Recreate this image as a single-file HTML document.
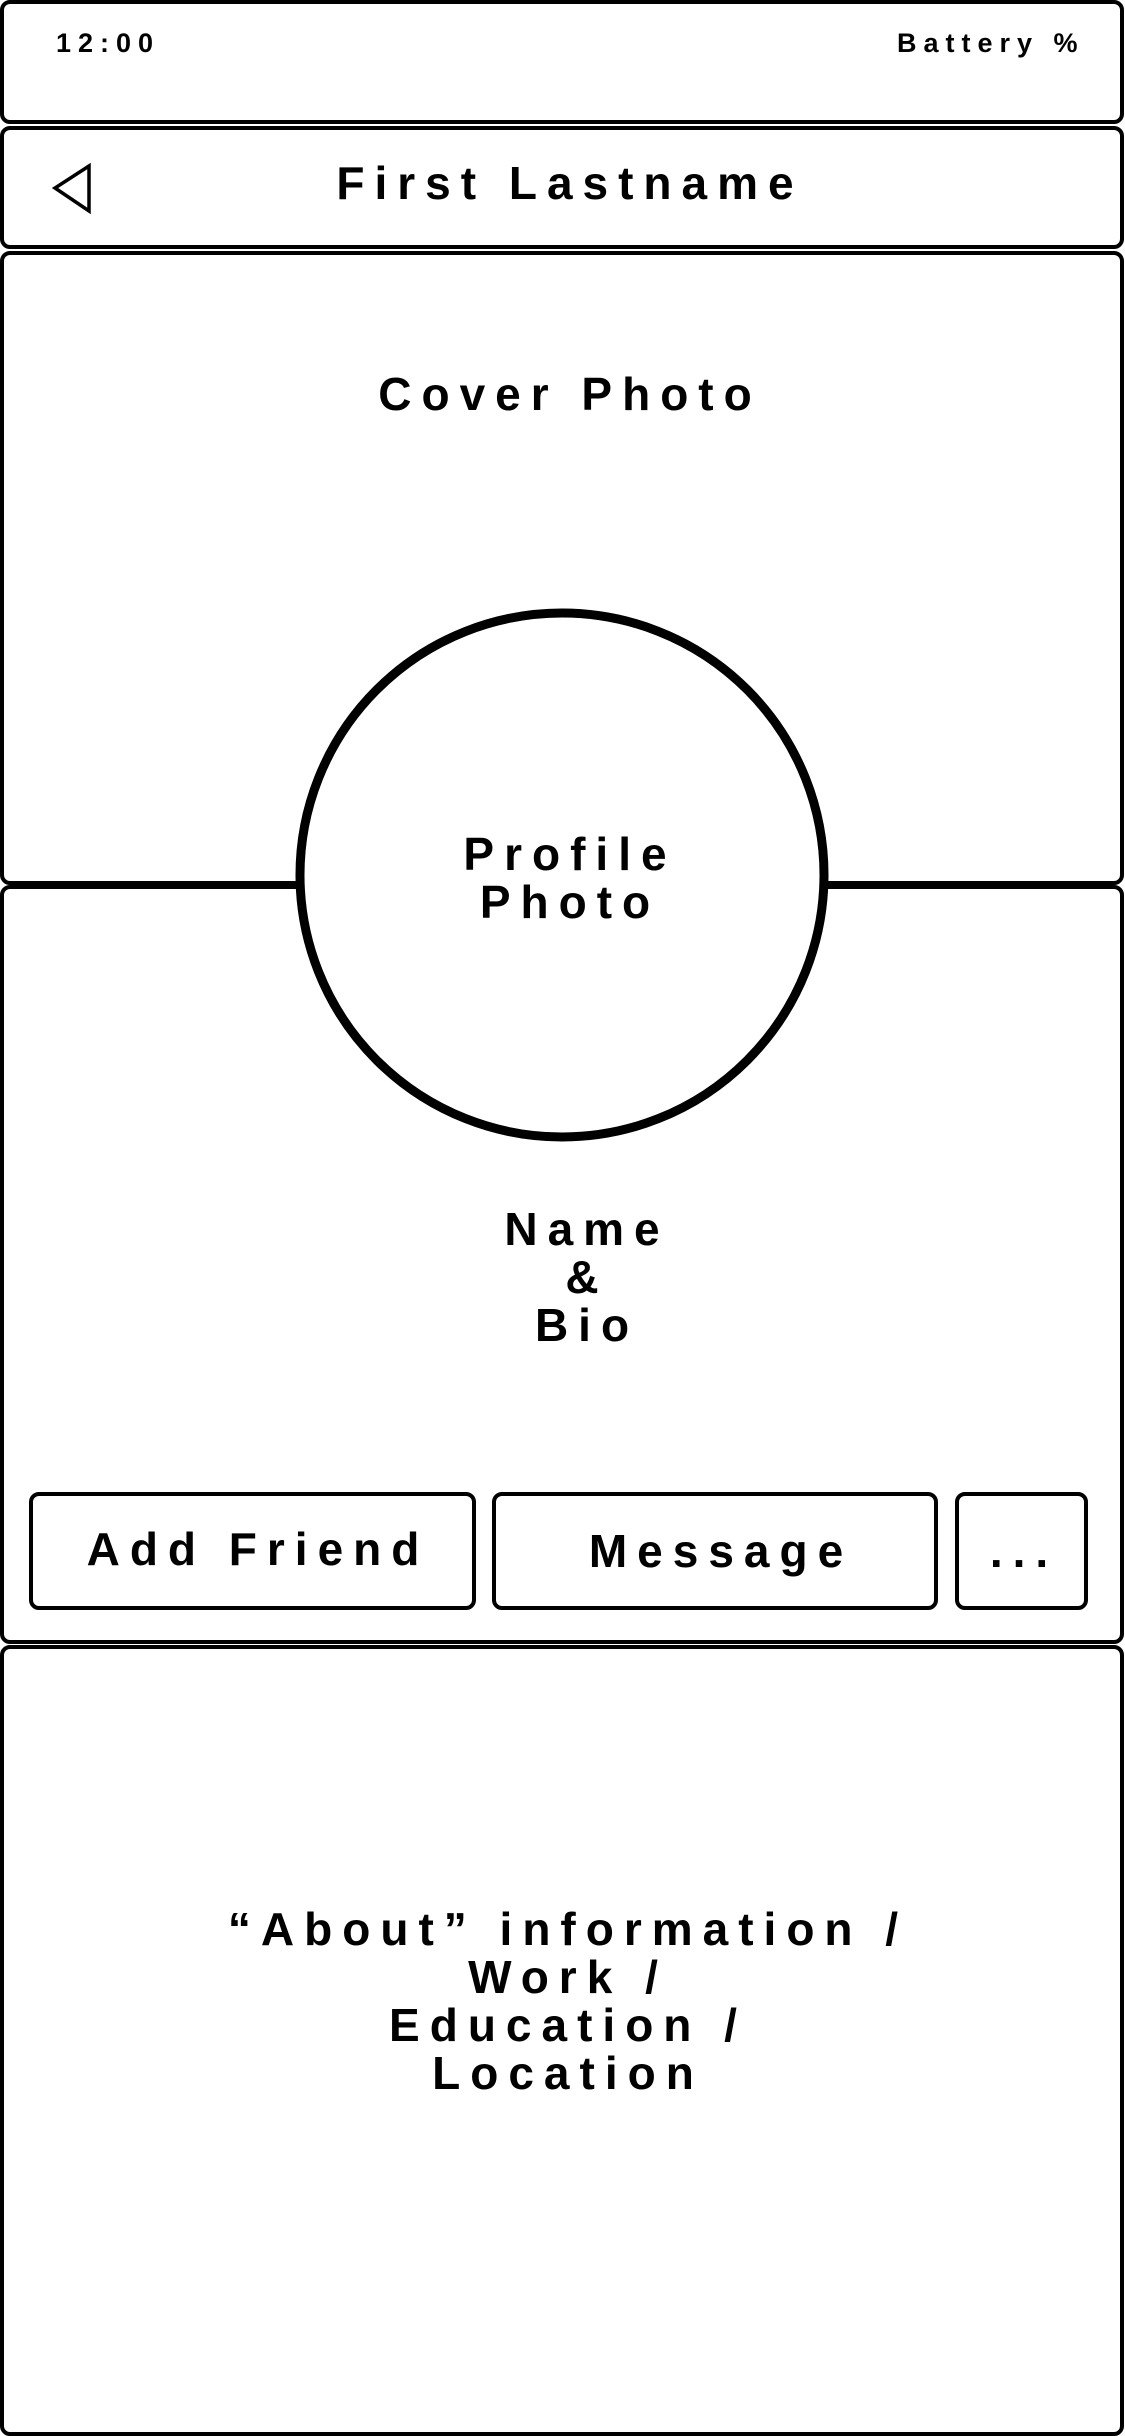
<!DOCTYPE html>
<html><head><meta charset="utf-8"><style>
html,body{margin:0;padding:0;background:#fff;}
svg{display:block;}
text{font-family:"Liberation Sans",Arial,sans-serif;font-weight:bold;fill:#000;}
</style></head><body>
<svg width="1125" height="2436" viewBox="0 0 1125 2436" xmlns="http://www.w3.org/2000/svg">
<g fill="#fff" stroke="#000" stroke-width="4">
<rect x="2" y="2" width="1120" height="120" rx="8"/>
<rect x="2" y="128" width="1120" height="119" rx="8"/>
<rect x="2" y="253" width="1120" height="630" rx="8"/>
<rect x="2" y="887" width="1120" height="755" rx="8"/>
<rect x="2" y="1647" width="1120" height="787" rx="8"/>
<rect x="31" y="1494" width="443" height="114" rx="8"/>
<rect x="494" y="1494" width="442" height="114" rx="8"/>
<rect x="957" y="1494" width="129" height="114" rx="8"/>
</g>
<polygon points="89,166 89,211 55,188" fill="none" stroke="#000" stroke-width="3.5"/>
<circle cx="562" cy="875" r="262" fill="#fff" stroke="#000" stroke-width="9"/>
<g font-size="27" letter-spacing="7">
<text x="56" y="52">12:00</text>
<text x="897" y="52">Battery %</text>
</g>
<g font-size="46" letter-spacing="10" text-anchor="middle">
<text x="570" y="199">First Lastname</text>
<text x="570" y="410">Cover Photo</text>
<text x="570" y="870">Profile</text>
<text x="570" y="918">Photo</text>
<text x="587" y="1245">Name</text>
<text x="587" y="1293">&amp;</text>
<text x="587" y="1341">Bio</text>
<text x="258" y="1565">Add Friend</text>
<text x="721" y="1567">Message</text>
<text x="1024" y="1567">...</text>
<text x="568" y="1945">“About” information /</text>
<text x="568" y="1993">Work /</text>
<text x="568" y="2041">Education /</text>
<text x="568" y="2089">Location</text>
</g>
</svg>
</body></html>
